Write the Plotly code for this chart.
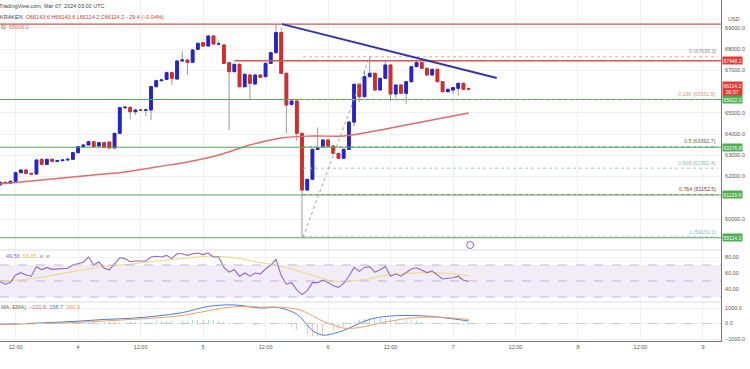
import plotly.graph_objects as go
from plotly.subplots import make_subplots
import pandas as pd

# ---------------- data ----------------
candle_start = "2024-03-03 09:00"   # hourly candles, last one Mar 07 03:00
opens = [61600,61724,61690,61771,62179,62305,62148,62115,62807,62571,62807,62712,62745,62775,62807,
         63120,63403,63481,63638,63435,63591,63620,63340,64030,65238,65254,65050,65130,65120,65130,
         66227,66510,66572,66886,66588,67435,67482,67372,67984,68298,68141,68612,68235,68188,67357,
         66933,67278,66227,66776,66352,66776,66698,67325,67827,68769,66855,65395,65552,64031,61364,
         61866,63278,63400,63718,63435,63090,62855,63278,64560,66337,65757,66698,66855,66070,66619,
         67247,65882,66305,65913,66462,67168,67357,67090,66776,67043,66462,65992,66070,66149,66384,
         66143.6]
closes = [61724,61690,61771,62179,62305,62148,62115,62775,62571,62807,62712,62745,62775,62807,63120,
          63403,63481,63638,63403,63591,63371,63340,64030,65238,65260,65050,65130,65120,65130,66227,
          66510,66540,66886,66619,67435,67480,67372,67953,68267,68141,68612,68235,68240,67325,66933,
          67278,66227,66808,66384,66776,66666,67325,67827,68769,66855,65364,65552,64031,61364,61866,
          63278,63330,63718,63435,63090,62855,63278,64560,66337,65757,66698,66855,66070,66619,67247,
          65882,66305,65913,66462,67168,67357,67090,66776,67043,66462,65992,66102,66180,66384,66102,
          66114.2]
highs = [61760,61780,61820,62230,62340,62330,62180,62820,62860,62840,62850,62780,62800,62900,63160,
         63440,63520,63680,63660,63620,63620,63650,64060,65280,65320,65300,65180,65170,65200,66280,
         66560,66600,66930,66920,67480,67900,67520,68000,68300,68330,68650,68660,68400,68230,67390,
         67310,67310,66840,66810,66800,66800,67360,67860,69170,69000,66890,65600,65580,64060,61900,
         63320,64313,63760,63750,63460,63110,63300,64600,66380,66380,67000,67635.3,66890,66650,67450,
         67280,66340,66340,66500,67200,67500,67390,67120,67070,67080,66490,66140,66220,66420,66420,
         66143.6]
lows = [61560,61650,61640,61740,62150,62120,62080,62090,62540,62550,62690,62700,62730,62760,62790,
        63100,63380,63460,63380,63380,63340,63300,63320,64000,65150,64700,64900,65080,64850,64650,
        66180,66480,66540,66300,66560,67400,66800,67340,67950,68100,68110,68200,68200,67290,64190,
        66900,66190,66190,65600,66320,66630,66670,67300,67800,66820,64030,65300,63680,59150,61300,
        61840,63250,63380,63400,63060,62820,62830,63250,64350,65500,65720,66660,66040,66040,66590,
        65550,65700,65880,65400,66430,67140,67060,66740,66740,66430,65960,65950,65880,65800,66070,
        66114.2]

# simple moving average (hours from Mar 04 00:00)
sma_hours = [-15,-9,-3,3,9,15,21,27,33,39,45,51,57,63,69,75]
sma_vals = [61647,61788,61929,62071,62212,62447,62682,63012,63482,63812,63906,63906,64141,64423,64706,64988]

# RSI per candle
rsi_vals = [49.2,46,48,57.5,60.4,57.5,56,67.9,64,67,64.6,65,65.5,66,70,
            72,73.5,80,70,74,66,64,72,79,78,74,75,75,75,80,
            81,80,82,78,84,84,82,84,85,83,85,80,80,67,61,
            64,56,60,56,60,59,65,70,77,57,46,48,39,33,38,
            48,48,51,48,44,42,47,56,67,62,67,68,61,64,68,
            56,59,56,60,65,66.5,63.5,60.5,62.5,57,52.5,53.5,54,56,51,
            49.56]
rsi_ma_hours = [-15,-10,-5,0,5,10,15,20,25,30,35,40,45,50,55,60,65,70,75]
rsi_ma_vals = [50,52,57,63,68,71,75,78,81,79,73,67,57,49,52,58,60,60,56.65]

# MACD (12, 26, close, 9)
macd_hours = [-15,-10,-5,0,5,10,15,20,25,30,35,38,40,42,43,45,47,49,51,53,55,57,60,64,68,72,75]
macd_vals = [-60,0,60,150,260,330,480,700,1100,1200,1000,1050,900,600,300,-450,-750,-650,-450,-150,150,350,480,520,450,300,158.7]
signal_vals = [-50,-30,10,70,160,260,360,520,820,1080,1060,1050,1020,920,830,500,150,-100,-300,-300,-200,-50,150,350,420,350,260.3]
hist_vals = [-10,-5,5,20,40,45,40,55,60,55,50,45,40,50,70,
             80,85,90,85,80,75,65,70,80,110,100,90,80,70,120,
             140,150,170,160,190,190,180,200,220,230,240,220,180,100,40,
             10,-20,-40,-60,-70,-60,-40,0,60,20,-100,-250,-400,-550,-700,
             -800,-780,-720,-600,-480,-350,-200,-50,100,200,280,340,380,380,360,
             300,250,210,180,160,130,100,80,60,30,0,-30,-50,-70,-90,
             -101.6]

tick_hours = [-12,0,12,24,36,48,60,72,84,96,108,120]
tick_labels = ['12:00','4','12:00','5','12:00','6','12:00','7','12:00','8','12:00','9']
price_ticks = [60000,62000,63000,64000,65000,67000,68000,69000]

green_levels = [65622.0, 63376.8, 61129.6, 59114.3]
red_levels_full = [69170.0]
red_level_part = 67448.1
red_part_start_hour = 30

fib_ratios = ['0', '0.236', '0.5', '0.618', '0.764', '1']
fib_prices = [67635.3, 65632.8, 63392.7, 62391.4, 61152.5, 59150.0]
fib_start_hour = 43.2
fib_end_hour = 122.9
fib_anchor_hours = [43.2, 56]
fib_anchor_prices = [59150.0, 67635.3]

trend_hours = [39.2, 80.4]
trend_prices = [69170.0, 66635.0]

axis_boxes = [(67448.1, '67448.1', '#e53935'), (66114.2, '66114.2<br>00:57', '#e53935'),
              (65622.0, '65622.0', '#4caf50'), (63376.8, '63376.8', '#4caf50'),
              (61129.6, '61129.6', '#4caf50'), (59114.3, '59114.3', '#4caf50')]

event_hour = 75.3
event_price = 58776

# ---------------- styling ----------------
T0 = pd.Timestamp("2024-03-04 00:00")
def at(h):
    return T0 + pd.Timedelta(hours=h)

X_START = pd.Timestamp("2024-03-03 09:00")
X_END = pd.Timestamp("2024-03-09 03:28")
INC = '#2424cf'
DEC = '#d62b2b'
WICK = '#9a9a9a'
FONT = 'Liberation Sans'
GRID = '#f0f0f0'
AX = '#555555'

times = pd.date_range(candle_start, periods=len(opens), freq="h")
body_hi = [max(o, c) for o, c in zip(opens, closes)]
body_lo = [min(o, c) for o, c in zip(opens, closes)]

fig = make_subplots(rows=3, cols=1, shared_xaxes=True, vertical_spacing=0,
                    row_heights=[250/341, 52/341, 39/341])

fig.add_trace(go.Candlestick(x=times, open=opens, high=highs, low=lows, close=closes,
                             increasing=dict(line=dict(color=WICK, width=1), fillcolor=INC),
                             decreasing=dict(line=dict(color=WICK, width=1), fillcolor=DEC),
                             whiskerwidth=0, hoverinfo='skip'), row=1, col=1)
fig.add_trace(go.Candlestick(x=times, open=opens, high=body_hi, low=body_lo, close=closes,
                             increasing=dict(line=dict(color=INC, width=1), fillcolor=INC),
                             decreasing=dict(line=dict(color=DEC, width=1), fillcolor=DEC),
                             whiskerwidth=0, hoverinfo='skip'), row=1, col=1)
fig.add_trace(go.Scatter(x=[at(h) for h in sma_hours], y=sma_vals, mode='lines',
                         line=dict(color='#e06b6b', width=1.4, shape='spline'), hoverinfo='skip'), row=1, col=1)

fig.add_trace(go.Scatter(x=[at(h) for h in rsi_ma_hours], y=rsi_ma_vals, mode='lines',
                         line=dict(color='#f5d76e', width=1, shape='spline'), hoverinfo='skip'), row=2, col=1)
fig.add_trace(go.Scatter(x=times, y=rsi_vals, mode='lines',
                         line=dict(color='#8e6bbf', width=1.1), hoverinfo='skip'), row=2, col=1)

fig.add_trace(go.Bar(x=times, y=hist_vals, width=600000,
                     marker=dict(color=['#a8ddd2' if v >= 0 else '#f6c0c0' for v in hist_vals], line=dict(width=0)),
                     hoverinfo='skip'), row=3, col=1)
fig.add_trace(go.Scatter(x=[at(h) for h in macd_hours], y=macd_vals, mode='lines',
                         line=dict(color='#4a7be0', width=1, shape='spline'), hoverinfo='skip'), row=3, col=1)
fig.add_trace(go.Scatter(x=[at(h) for h in macd_hours], y=signal_vals, mode='lines',
                         line=dict(color='#f5a05a', width=1, shape='spline'), hoverinfo='skip'), row=3, col=1)

fig.update_layout(width=750, height=369, margin=dict(l=0, r=29, t=0, b=28, autoexpand=False),
                  paper_bgcolor='white', plot_bgcolor='white', showlegend=False,
                  boxgap=0.25, bargap=0, font=dict(family=FONT, size=6, color=AX))

fig.update_xaxes(range=[X_START, X_END], tickvals=[at(h) for h in tick_hours], ticktext=tick_labels,
                 showgrid=True, gridcolor=GRID, gridwidth=1, zeroline=False,
                 rangeslider_visible=False, ticks='', showline=False)
fig.update_xaxes(showticklabels=False, row=1, col=1)
fig.update_xaxes(showticklabels=False, row=2, col=1)
fig.update_xaxes(showticklabels=True, tickfont=dict(size=5.5, color=AX), showline=True,
                 linecolor='#777777', linewidth=1, row=3, col=1)

fig.update_yaxes(side='right', showgrid=True, gridcolor=GRID, zeroline=False, ticks='',
                 showline=True, linecolor='#777777', linewidth=1, tickfont=dict(size=5.5, color=AX),
                 ticklabelstandoff=2, fixedrange=True)
fig.update_yaxes(range=[58541, 70306], tickvals=price_ticks, tickformat='.1f', row=1, col=1)
fig.update_yaxes(range=[23.75, 88.75], tickvals=[40, 60, 80], tickformat='.2f', row=2, col=1)
fig.update_yaxes(range=[-1129, 1387], tickvals=[-1000, 0, 1000], ticktext=['\u22121000.0', '0.0', '1000.0'], row=3, col=1)

shapes = []
# pane separators
for yp in [1 - 250/341, 1 - 302/341]:
    shapes.append(dict(type='line', xref='paper', yref='paper', x0=0, x1=1, y0=yp, y1=yp,
                       line=dict(color='#dcdcdc', width=1)))
# horizontal levels
for p in red_levels_full:
    shapes.append(dict(type='line', xref='x domain', yref='y', x0=0, x1=1, y0=p, y1=p,
                       line=dict(color='#d9534f', width=1.3)))
shapes.append(dict(type='line', xref='x', yref='y', x0=at(red_part_start_hour), x1=X_END,
                   y0=red_level_part, y1=red_level_part, line=dict(color='#d9534f', width=1.3)))
for p in green_levels:
    shapes.append(dict(type='line', xref='x domain', yref='y', x0=0, x1=1, y0=p, y1=p,
                       line=dict(color='#5aa35a', width=1.1)))
# fib levels
fib_line_colors = ['#e0a8a8', '#c9a090', '#6f9f6f', '#a9c7c0', '#a3875a', '#7fb8a8']
fib_label_colors = ['#8c8c8c', '#d09a90', '#5f6650', '#7fbcae', '#8b3434', '#8fb6d8']
for p, col in zip(fib_prices, fib_line_colors):
    shapes.append(dict(type='line', xref='x', yref='y', x0=at(fib_start_hour), x1=at(fib_end_hour),
                       y0=p, y1=p, line=dict(color=col, width=1, dash='dot')))
shapes.append(dict(type='line', xref='x', yref='y', x0=at(fib_anchor_hours[0]), x1=at(fib_anchor_hours[1]),
                   y0=fib_anchor_prices[0], y1=fib_anchor_prices[1],
                   line=dict(color='#a0a0a0', width=1, dash='dot')))
# trend line
shapes.append(dict(type='line', xref='x', yref='y', x0=at(trend_hours[0]), x1=at(trend_hours[1]),
                   y0=trend_prices[0], y1=trend_prices[1], line=dict(color='#3434a8', width=2)))
# RSI band and guides
shapes.append(dict(type='rect', xref='x2 domain', yref='y2', x0=0, x1=1, y0=30, y1=70,
                   fillcolor='rgba(156,110,210,0.13)', line=dict(width=0), layer='below'))
for v in [70, 50, 30]:
    shapes.append(dict(type='line', xref='x2 domain', yref='y2', x0=0, x1=1, y0=v, y1=v,
                       line=dict(color='#c2b2d9', width=1, dash='dash')))
shapes.append(dict(type='line', xref='x3 domain', yref='y3', x0=0, x1=1, y0=0, y1=0,
                   line=dict(color='#c8c8c8', width=1, dash='dash')))
# event marker
shapes.append(dict(type='circle', xref='x', yref='y', xsizemode='pixel', ysizemode='pixel',
                   xanchor=at(event_hour), yanchor=event_price, x0=-3.5, x1=3.5, y0=-3.5, y1=3.5,
                   line=dict(color='#9b59c0', width=1), fillcolor='white'))
fig.update_layout(shapes=shapes)

ann = []
def paper_y(px):
    return 1 - px / 341

ann.append(dict(xref='paper', yref='paper', x=0, y=paper_y(6), xanchor='left', yanchor='middle', xshift=-3,
                text='TradingView.com, Mar 07, 2024 03:00 UTC', showarrow=False,
                font=dict(size=5.5, color='#444444')))
ann.append(dict(xref='paper', yref='paper', x=0, y=paper_y(17), xanchor='left', yanchor='middle', xshift=-2,
                text=('KRAKEN  <span style="color:#b84040">O66143.6 H66143.6 L66114.2 C66114.2 '
                      '\u221229.4 (\u22120.04%)</span>'), showarrow=False,
                font=dict(size=5.5, color='#444444')))
ann.append(dict(xref='paper', yref='paper', x=0, y=paper_y(26.5), xanchor='left', yanchor='middle', xshift=-1,
                text='0)  <span style="color:#e06b6b">65006.2</span>', showarrow=False,
                font=dict(size=5.5, color='#666666')))
ann.append(dict(xref='paper', yref='paper', x=0, y=paper_y(256), xanchor='left', yanchor='middle', xshift=4,
                text=('<span style="color:#8e6bbf">49.56</span>  <span style="color:#e0c040">56.65</span>'
                      '  <span style="color:#999">\u00f8  \u00f8</span>'), showarrow=False,
                font=dict(size=5.5)))
ann.append(dict(xref='paper', yref='paper', x=0, y=paper_y(307), xanchor='left', yanchor='middle', xshift=-1,
                text=('<span style="color:#666">MA, EMA)</span>  <span style="color:#e05050">\u2212101.6</span>'
                      '  <span style="color:#4a7be0">158.7</span>  <span style="color:#f0903a">260.3</span>'),
                showarrow=False, font=dict(size=5.5)))
for r, p, col in zip(fib_ratios, fib_prices, fib_label_colors):
    ann.append(dict(xref='x', yref='y', x=at(fib_end_hour), y=p, xanchor='right', yanchor='bottom', yshift=0.5,
                    text=f'{r} ({p:.1f})', showarrow=False, font=dict(size=5.3, color=col)))
for p, txt, col in axis_boxes:
    ann.append(dict(xref='paper', yref='y', x=1, y=p, xanchor='left', yanchor='middle', xshift=1,
                    yshift=0,
                    text=txt, showarrow=False, bgcolor=col, borderpad=0.5,
                    font=dict(size=5.0, color='white')))
ann.append(dict(xref='paper', yref='paper', x=1, y=paper_y(19), xanchor='left', yanchor='middle', xshift=5,
                text='USD', showarrow=False, font=dict(size=5.5, color=AX)))
fig.update_layout(annotations=ann)

fig.write_html("out.html", config={'displayModeBar': False, 'staticPlot': True},
               post_script="document.body.style.margin='0';document.body.style.overflow='hidden';")
